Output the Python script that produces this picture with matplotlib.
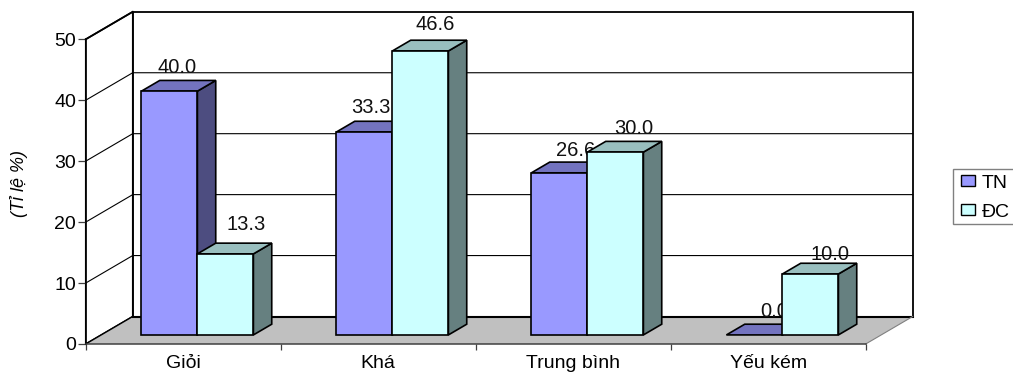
import matplotlib
matplotlib.use("Agg")
import matplotlib.pyplot as plt
from matplotlib.patches import Polygon, Patch, Rectangle
from matplotlib.ticker import FixedLocator, NullFormatter, FixedFormatter

plt.rcParams['font.family'] = ['Liberation Sans', 'DejaVu Sans']

categories = ["Giỏi", "Khá", "Trung bình", "Yếu kém"]
series_names = ["TN", "ĐC"]
tn_values = [40.0, 33.3, 26.6, 0.0]
dc_values = [13.3, 46.6, 30.0, 10.0]
y_ticks = [0, 10, 20, 30, 40, 50]

# (dx, dy) pixel nudges of the value labels from the centre of each bar's front top edge
tn_label_nudge = [(7.5, 23.4), (6, 24.5), (16, 22.3), (20, 23.3)]
dc_label_nudge = [(20.5, 29), (15, 26.3), (18, 23.3), (20, 19)]

W, H = 1013, 374
LEFT, RIGHT, BOTTOM, TOP = 85.7, 865.7, 344.0, 39.3

fig = plt.figure(figsize=(W / 100, H / 100), dpi=100, facecolor="white")
ax = fig.add_axes([LEFT / W, 1 - BOTTOM / H, (RIGHT - LEFT) / W, (BOTTOM - TOP) / H])
ax.set_xlim(0, 4)
ax.set_ylim(0, 50)
ax.patch.set_visible(False)

px_x = 4 / (RIGHT - LEFT)
px_y = 50 / (BOTTOM - TOP)
DX, DY = 47 * px_x, 27.5 * px_y     # full depth of the chart box


def proj(x, y, d=0.0):
    """Project a point at depth fraction d onto the oblique front plane."""
    return (x + d * DX, y + d * DY)


def poly(points, fc, ec="black", lw=1.2, z=1):
    ax.add_patch(Polygon(points, closed=True, facecolor=fc, edgecolor=ec,
                         linewidth=lw, zorder=z, clip_on=False, joinstyle="miter"))


# Walls and floor
poly([proj(0, 0, 1), proj(4, 0, 1), proj(4, 50, 1), proj(0, 50, 1)], "white", lw=1.3, z=1)
poly([proj(0, 0, 0), proj(0, 0, 1), proj(0, 50, 1), proj(0, 50, 0)], "white", lw=1.1, z=1)
for v in y_ticks[1:-1]:
    ax.plot(*zip(proj(0, v, 0), proj(0, v, 1), proj(4, v, 1)), color="black", lw=0.8,
            zorder=1.5, clip_on=False)
poly([proj(0, 0, 0), proj(4, 0, 0), proj(4, 0, 1), proj(0, 0, 1)], "#C0C0C0", ec="none", z=2)
ax.plot(*zip(proj(0, 0, 1), proj(4, 0, 1)), color="black", lw=1.5, zorder=2.1, clip_on=False)
ax.plot(*zip(proj(0, 0, 0), proj(0, 0, 1)), color="black", lw=1.0, zorder=2.1, clip_on=False)
ax.plot(*zip(proj(4, 0, 0), proj(4, 0, 1)), color="#808080", lw=0.8, zorder=2.1, clip_on=False)
ax.plot(*zip(proj(0, 50, 0), proj(0, 50, 1)), color="black", lw=1.3, zorder=2.1, clip_on=False)

GAP = 40.2 / 195
BAR = 56 / 195
D0, D1 = 0.33, 0.72          # front and back of the bars, as depth fractions

PALETTE = [("#9999FF", "#7373BF", "#4D4D80"), ("#CCFFFF", "#99BFBF", "#668080")]


def bar3d(x0, value, colours, z):
    x1 = x0 + BAR
    front, top, side = colours
    poly([proj(x1, 0, D0), proj(x1, 0, D1), proj(x1, value, D1), proj(x1, value, D0)], side, z=z)
    poly([proj(x0, value, D0), proj(x1, value, D0), proj(x1, value, D1), proj(x0, value, D1)], top, z=z)
    if value > 0:
        poly([proj(x0, 0, D0), proj(x1, 0, D0), proj(x1, value, D0), proj(x0, value, D0)], front, z=z)


# Each group is stacked left to right, so a series' labels sit under the next bar
z = 3
for i in range(len(categories)):
    for k, (vals, nudge) in enumerate(((tn_values, tn_label_nudge), (dc_values, dc_label_nudge))):
        x0 = i + GAP + k * BAR
        bar3d(x0, vals[i], PALETTE[k], z)
        bx, by = proj(x0 + BAR / 2, vals[i], D0)
        ax.annotate(f"{vals[i]:.1f}", (bx, by),
                    xytext=(nudge[i][0] * 0.72, nudge[i][1] * 0.72), textcoords="offset points",
                    ha="center", va="center", fontsize=14.5, color="#111111", zorder=z + 0.05,
                    annotation_clip=False)
        z += 0.1

# Axes, ticks and labels
for side in ("top", "right"):
    ax.spines[side].set_visible(False)
ax.spines["left"].set_linewidth(1.1)
ax.spines["bottom"].set_linewidth(1.1)
ax.spines["bottom"].set_color("#404040")
ax.spines["left"].set_zorder(2.5)
ax.spines["bottom"].set_zorder(2.5)

ax.yaxis.set_major_locator(FixedLocator(y_ticks))
ax.tick_params(axis="y", length=5.5, width=0.9, color="#404040", labelsize=14, pad=1.5)
ax.xaxis.set_major_locator(FixedLocator(range(5)))
ax.xaxis.set_major_formatter(NullFormatter())
ax.xaxis.set_minor_locator(FixedLocator([i + 0.5 for i in range(4)]))
ax.xaxis.set_minor_formatter(FixedFormatter(categories))
ax.tick_params(axis="x", which="major", length=4.3, width=0.9, color="#404040")
ax.tick_params(axis="x", which="minor", length=0, labelsize=14, pad=8)

fig.text(19 / W, 1 - 183.5 / H, "(Tỉ lệ %)", rotation=90, style="italic",
         fontsize=13, ha="center", va="center")

# Legend frame runs off the right edge of the figure
fig.add_artist(Rectangle((952.7 / W, 1 - 224 / H), 80 / W, 55 / H, transform=fig.transFigure,
                         facecolor="white", edgecolor="#808080", linewidth=1.0))
handles = [Patch(facecolor=PALETTE[k][0], edgecolor="black", linewidth=1.0) for k in range(2)]
leg = fig.legend(handles, series_names, loc="upper left",
                 bbox_to_anchor=(961 / W, 1 - 174.5 / H), borderaxespad=0, borderpad=0,
                 fontsize=14, frameon=False,
                 handlelength=0.7, handleheight=0.5, handletextpad=0.35,
                 labelspacing=0.63)

fig.savefig("out.png", dpi=100)
